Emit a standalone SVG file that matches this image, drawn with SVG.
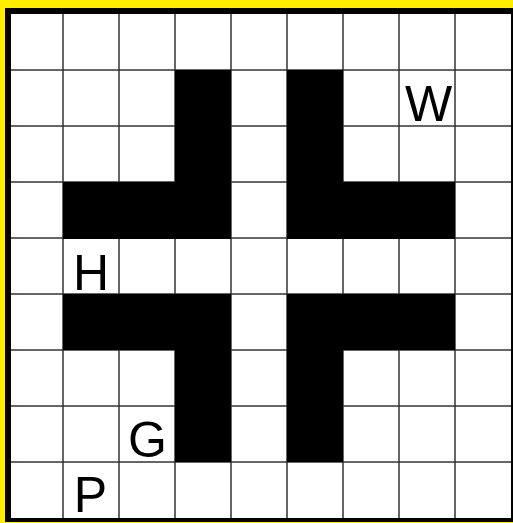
<svg xmlns="http://www.w3.org/2000/svg" width="513" height="523" viewBox="0 0 513 523">
<style>
.grid line{stroke:#333;stroke-width:1.5}
.blk{fill:#000}
.lbl{font-family:"Liberation Sans",Arial,sans-serif;font-size:50px;fill:#000;text-anchor:middle}
</style>
<rect x="0" y="0" width="513" height="523" fill="#ffee00"/>
<rect x="5" y="8" width="510" height="514" fill="#000"/>
<rect x="11" y="14" width="500" height="504" fill="#fff"/>
<g class="grid">
<line x1="63" y1="14" x2="63" y2="518"/>
<line x1="119" y1="14" x2="119" y2="518"/>
<line x1="175" y1="14" x2="175" y2="518"/>
<line x1="231" y1="14" x2="231" y2="518"/>
<line x1="287" y1="14" x2="287" y2="518"/>
<line x1="343" y1="14" x2="343" y2="518"/>
<line x1="399" y1="14" x2="399" y2="518"/>
<line x1="455" y1="14" x2="455" y2="518"/>
<line x1="11" y1="70" x2="511" y2="70"/>
<line x1="11" y1="126" x2="511" y2="126"/>
<line x1="11" y1="182" x2="511" y2="182"/>
<line x1="11" y1="238" x2="511" y2="238"/>
<line x1="11" y1="294" x2="511" y2="294"/>
<line x1="11" y1="350" x2="511" y2="350"/>
<line x1="11" y1="406" x2="511" y2="406"/>
<line x1="11" y1="462" x2="511" y2="462"/>
</g>
<g id="block-tl" class="blk">
<rect x="175" y="70" width="56" height="169"/>
<rect x="63" y="182" width="168" height="57"/>
</g>
<g id="block-tr" class="blk">
<rect x="287" y="70" width="56" height="169"/>
<rect x="287" y="182" width="168" height="57"/>
</g>
<g id="block-bl" class="blk">
<rect x="63" y="294" width="168" height="56"/>
<rect x="175" y="294" width="56" height="168"/>
</g>
<g id="block-br" class="blk">
<rect x="287" y="294" width="168" height="56"/>
<rect x="287" y="294" width="56" height="168"/>
</g>
<g id="label-W"><text class="lbl" x="428.5" y="121">W</text></g>
<g id="label-H"><text class="lbl" x="91" y="290">H</text></g>
<g id="label-G"><text class="lbl" x="147.5" y="457">G</text></g>
<g id="label-P"><text class="lbl" x="90.5" y="512">P</text></g>
</svg>
